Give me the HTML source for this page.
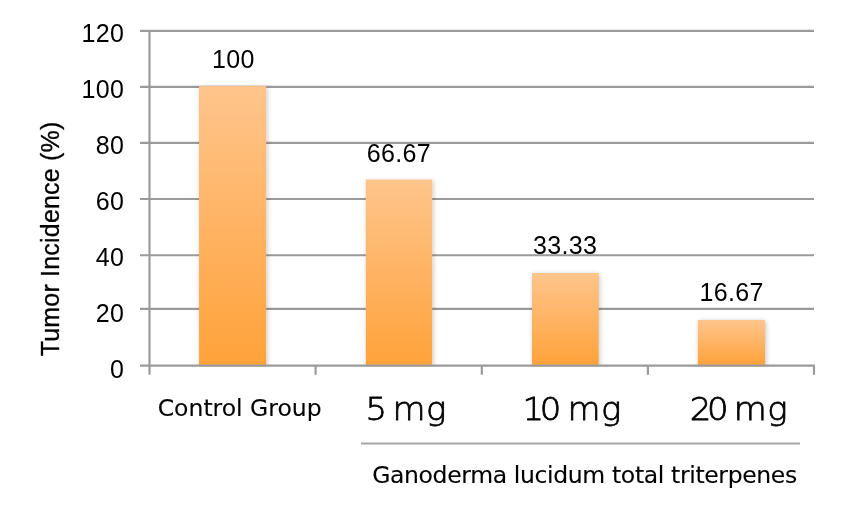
<!DOCTYPE html>
<html lang="en">
<head>
<meta charset="utf-8">
<title>Tumor Incidence chart</title>
<style>
html,body{margin:0;padding:0;background:#fff;}
body{width:850px;height:512px;overflow:hidden;}
svg{display:block;}
.num{font-family:'Liberation Sans', sans-serif;font-size:25px;fill:#000;letter-spacing:0.35px;}
.txt{font-family:'DejaVu Sans', 'Liberation Sans', sans-serif;font-size:23.5px;fill:#000;stroke:#000;stroke-width:0.12px;}
.ttl{font-family:'Liberation Sans', sans-serif;font-size:25px;fill:#000;stroke:#000;stroke-width:0.3px;letter-spacing:0.2px;}
.cat{font-family:'DejaVu Sans Light', 'DejaVu Sans', 'Liberation Sans', sans-serif;font-weight:200;font-size:32px;fill:#000;stroke:#000;stroke-width:0.75px;}
</style>
</head>
<body>
<svg width="850" height="512" viewBox="0 0 850 512">
<defs>
<linearGradient id="bar" x1="0" y1="0" x2="0" y2="1">
<stop offset="0" stop-color="#ffc58c"/>
<stop offset="1" stop-color="#ffa23a"/>
</linearGradient>
<filter id="sh" x="-20%" y="-10%" width="140%" height="120%">
<feGaussianBlur in="SourceAlpha" stdDeviation="2.6"/>
<feOffset dx="0.6" dy="1.2"/>
<feComponentTransfer><feFuncA type="linear" slope="0.24"/></feComponentTransfer>
<feMerge><feMergeNode/><feMergeNode in="SourceGraphic"/></feMerge>
</filter>
<clipPath id="plot"><rect x="0" y="0" width="850" height="366.60"/></clipPath>
</defs>
<rect width="850" height="512" fill="#ffffff"/>

<g stroke="#9a9a9a" stroke-width="2.15" fill="none">
<line x1="140" y1="30.90" x2="814.0" y2="30.90"/>
<line x1="140" y1="86.80" x2="814.0" y2="86.80"/>
<line x1="140" y1="142.90" x2="814.0" y2="142.90"/>
<line x1="140" y1="199.00" x2="814.0" y2="199.00"/>
<line x1="140" y1="255.25" x2="814.0" y2="255.25"/>
<line x1="140" y1="308.90" x2="814.0" y2="308.90"/>
</g>
<g clip-path="url(#plot)"><g filter="url(#sh)">
<rect x="199.2" y="86.20" width="66.9" height="289.40" fill="#ffb060"/>
<rect x="365.9" y="179.80" width="66.2" height="195.80" fill="#ffb060"/>
<rect x="532.0" y="273.00" width="66.5" height="102.60" fill="#ffb060"/>
<rect x="697.9" y="320.00" width="67.1" height="55.60" fill="#ffb060"/>
</g></g>
<g>
<rect x="199.2" y="86.20" width="66.9" height="279.40" fill="url(#bar)"/>
<rect x="365.9" y="179.80" width="66.2" height="185.80" fill="url(#bar)"/>
<rect x="532.0" y="273.00" width="66.5" height="92.60" fill="url(#bar)"/>
<rect x="697.9" y="320.00" width="67.1" height="45.60" fill="url(#bar)"/>
</g>
<g stroke="#9a9a9a" stroke-width="2.15" fill="none">
<line x1="140" y1="365.60" x2="815.0" y2="365.60"/>
<line x1="149.5" y1="30.00" x2="149.5" y2="374.80"/>
<line x1="315.6" y1="365.60" x2="315.6" y2="374.80"/>
<line x1="481.8" y1="365.60" x2="481.8" y2="374.80"/>
<line x1="647.9" y1="365.60" x2="647.9" y2="374.80"/>
<line x1="814.0" y1="365.60" x2="814.0" y2="374.80"/>
<line x1="361" y1="443.5" x2="800" y2="443.5" stroke="#a6a6a6"/>
</g>
<text class="num" x="124.3" y="42.00" text-anchor="end">120</text>
<text class="num" x="124.3" y="97.93" text-anchor="end">100</text>
<text class="num" x="124.3" y="153.86" text-anchor="end">80</text>
<text class="num" x="124.3" y="209.79" text-anchor="end">60</text>
<text class="num" x="124.3" y="265.72" text-anchor="end">40</text>
<text class="num" x="124.3" y="321.65" text-anchor="end">20</text>
<text class="num" x="124.3" y="377.58" text-anchor="end">0</text>
<text class="num" x="233.4" y="68.2" text-anchor="middle">100</text>
<text class="num" x="398.9" y="161.8" text-anchor="middle">66.67</text>
<text class="num" x="565.2" y="254.2" text-anchor="middle">33.33</text>
<text class="num" x="731.7" y="301.4" text-anchor="middle">16.67</text>
<text class="txt" x="239.7" y="415.7" text-anchor="middle">Control Group</text>
<text class="cat" transform="scale(1.06,1)" x="344.72 363.21 370.28 401.84" y="420">5 mg</text>
<text class="cat" transform="scale(1.06,1)" x="492.92 509.15 528.30 535.28 567.03" y="420">10 mg</text>
<text class="cat" transform="scale(1.06,1)" x="650.66 666.98 685.85 692.26 723.77" y="420">20 mg</text>
<text class="txt" x="584.5" y="483" text-anchor="middle" style="letter-spacing:-0.36px">Ganoderma lucidum total triterpenes</text>
<text class="ttl" transform="translate(59.1,238.9) rotate(-90)" text-anchor="middle">Tumor Incidence (%)</text>
</svg>
</body>
</html>
